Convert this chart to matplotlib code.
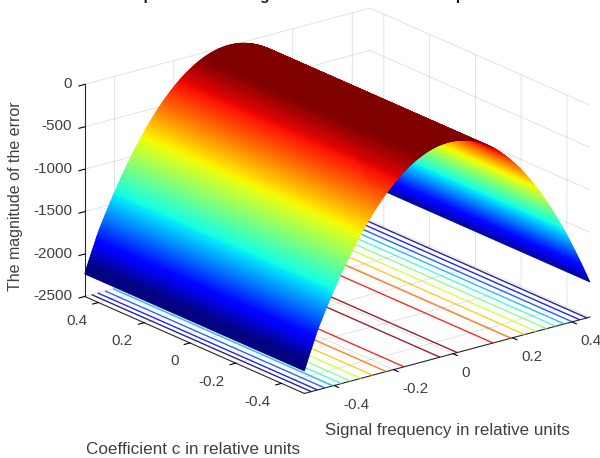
import numpy as np
import matplotlib
matplotlib.use("Agg")
import matplotlib.pyplot as plt
from matplotlib.transforms import Affine2D

# Data: error along the frequency axis, 0.01 apart from -0.50 to 0.46
frequency_start = -0.50
frequency_step = 0.01
error_profile = [-2235,-2130,-2030,-1935,-1835,-1748,-1669,-1591,-1515,-1440,-1368,-1297,-1229,-1162,
                 -1097,-1034,-973,-913,-856,-800,-746,-694,-644,-596,-549,-505,-462,-421,-382,-345,
                 -310,-276,-245,-215,-187,-161,-137,-115,-94,-76,-59,-44,-31,-20,-11,-3,2,6,8,
                 8,6,2,-3,-11,-20,-31,-44,-59,-76,-94,-115,-137,-161,-187,-215,-245,-276,-310,-345,
                 -382,-421,-462,-505,-549,-596,-644,-694,-746,-800,-856,-913,-973,-1034,-1097,-1162,
                 -1229,-1297,-1368,-1440,-1515,-1591,-1669,-1748,-1830,-1914,-1999,-2086]
coefficient_c = [-0.50, 0.46]
contour_levels = [-2000,-1800,-1600,-1400,-1200,-1000,-800,-600,-400,-200,0]
color_limits = (-2130, -60)
freq_ticks = [-0.4,-0.2,0,0.2,0.4]
freq_ticklabels = ['-0.4','-0.2','0','0.2','0.4']
c_ticks = [-0.4,-0.2,0,0.2,0.4]
c_ticklabels = ['-0.4','-0.2','0','0.2','0.4']
z_ticks = [-2500,-2000,-1500,-1000,-500,0]
z_ticklabels = ['-2500','-2000','-1500','-1000','-500','0']

plt.rcParams['font.family'] = ['Liberation Sans', 'DejaVu Sans']
TXT = '#404040'
fig = plt.figure(figsize=(6.0, 4.58), dpi=100)
ax = fig.add_subplot(projection='3d', proj_type='ortho', computed_zorder=False)
ax.set_position([62/600, -18/458, 536/600, 536/458])
ax.patch.set_alpha(0)
ax.view_init(elev=20.1, azim=-127.9)
ax.set_box_aspect((362, 358, 226), zoom=1.008)

F = frequency_start + frequency_step * np.arange(len(error_profile))
C = np.array(coefficient_c)
X, Y = np.meshgrid(F, C)
Z = np.vstack([error_profile, error_profile]).astype(float)

cmap = plt.get_cmap('jet')
norm = plt.Normalize(*color_limits)

ax.contour(X, Y, Z, levels=contour_levels, zdir='z', offset=-2500,
           cmap='jet', linewidths=1.0, alpha=0.85, zorder=2)

# Each facet is split for drawing only, to get the smooth colour ramp of interpolated shading
F_draw = np.linspace(F[0], F[-1], 4 * (len(F) - 1) + 1)
Z_draw = np.interp(F_draw, F, error_profile)
Xd, Yd = np.meshgrid(F_draw, C)
Zd = np.vstack([Z_draw, Z_draw])
fc = cmap(norm((Zd[:-1, :-1] + Zd[:-1, 1:]) / 2))
surf = ax.plot_surface(Xd, Yd, Zd, facecolors=fc, rstride=1, cstride=1, shade=False,
                       linewidth=0.5, antialiased=True, zorder=3)

ax.set_xlim(-0.5, 0.46, view_margin=0)
ax.set_ylim(-0.5, 0.46, view_margin=0)
ax.set_zlim(-2500, 0, view_margin=0)
ax.set_xticks(freq_ticks, freq_ticklabels)
ax.set_yticks(c_ticks, c_ticklabels)
ax.set_zticks(z_ticks, z_ticklabels)

for axis in (ax.xaxis, ax.yaxis, ax.zaxis):
    axis.set_pane_color((1, 1, 1, 0))
    axis.pane.set_edgecolor((1, 1, 1, 0))
    axis.line.set_color('#262626')
    axis.line.set_linewidth(0.8)
    axis._axinfo['grid'].update(color=(0.15, 0.15, 0.15, 0.15), linewidth=0.6)
    axis._axinfo['tick'].update(inward_factor=0.25, outward_factor=0.0, linewidth={True: 0.8, False: 0.6},
                                color='#262626')
ax.tick_params(axis='both', labelsize=11, labelcolor=TXT, pad=0)
ax.tick_params(axis='z', labelsize=11, labelcolor=TXT, pad=-3)


def nudge(label, dy):
    label.set_transform(label.get_transform() + Affine2D().translate(0, dy))


for t in ax.xaxis.get_major_ticks():
    t.label1.set_ha('left')
    nudge(t.label1, 2)
for t in ax.yaxis.get_major_ticks():
    t.label1.set_ha('right')
    nudge(t.label1, 3)
for t in ax.zaxis.get_major_ticks():
    t.label1.set_ha('right')
    t.label1.set_va('center')
    nudge(t.label1, 4.5)

fig.text(193/600, 1-449/458, 'Coefficient c in relative units', fontsize=12.3, color=TXT, ha='center', va='center')
fig.text(447/600, 1-430/458, 'Signal frequency in relative units', fontsize=12.2, color=TXT, ha='center', va='center')
fig.text(16/600, 1-196/458, 'The magnitude of the error', fontsize=11.5, color=TXT, ha='center', va='center', rotation=90)
fig.text(124/600, 1.0, 'Dependence of magnitude of the error on the parameters', fontsize=11,
         fontweight='bold', color='#1a1a1a', ha='left', va='baseline')

fig.savefig('out.png', dpi=100)
